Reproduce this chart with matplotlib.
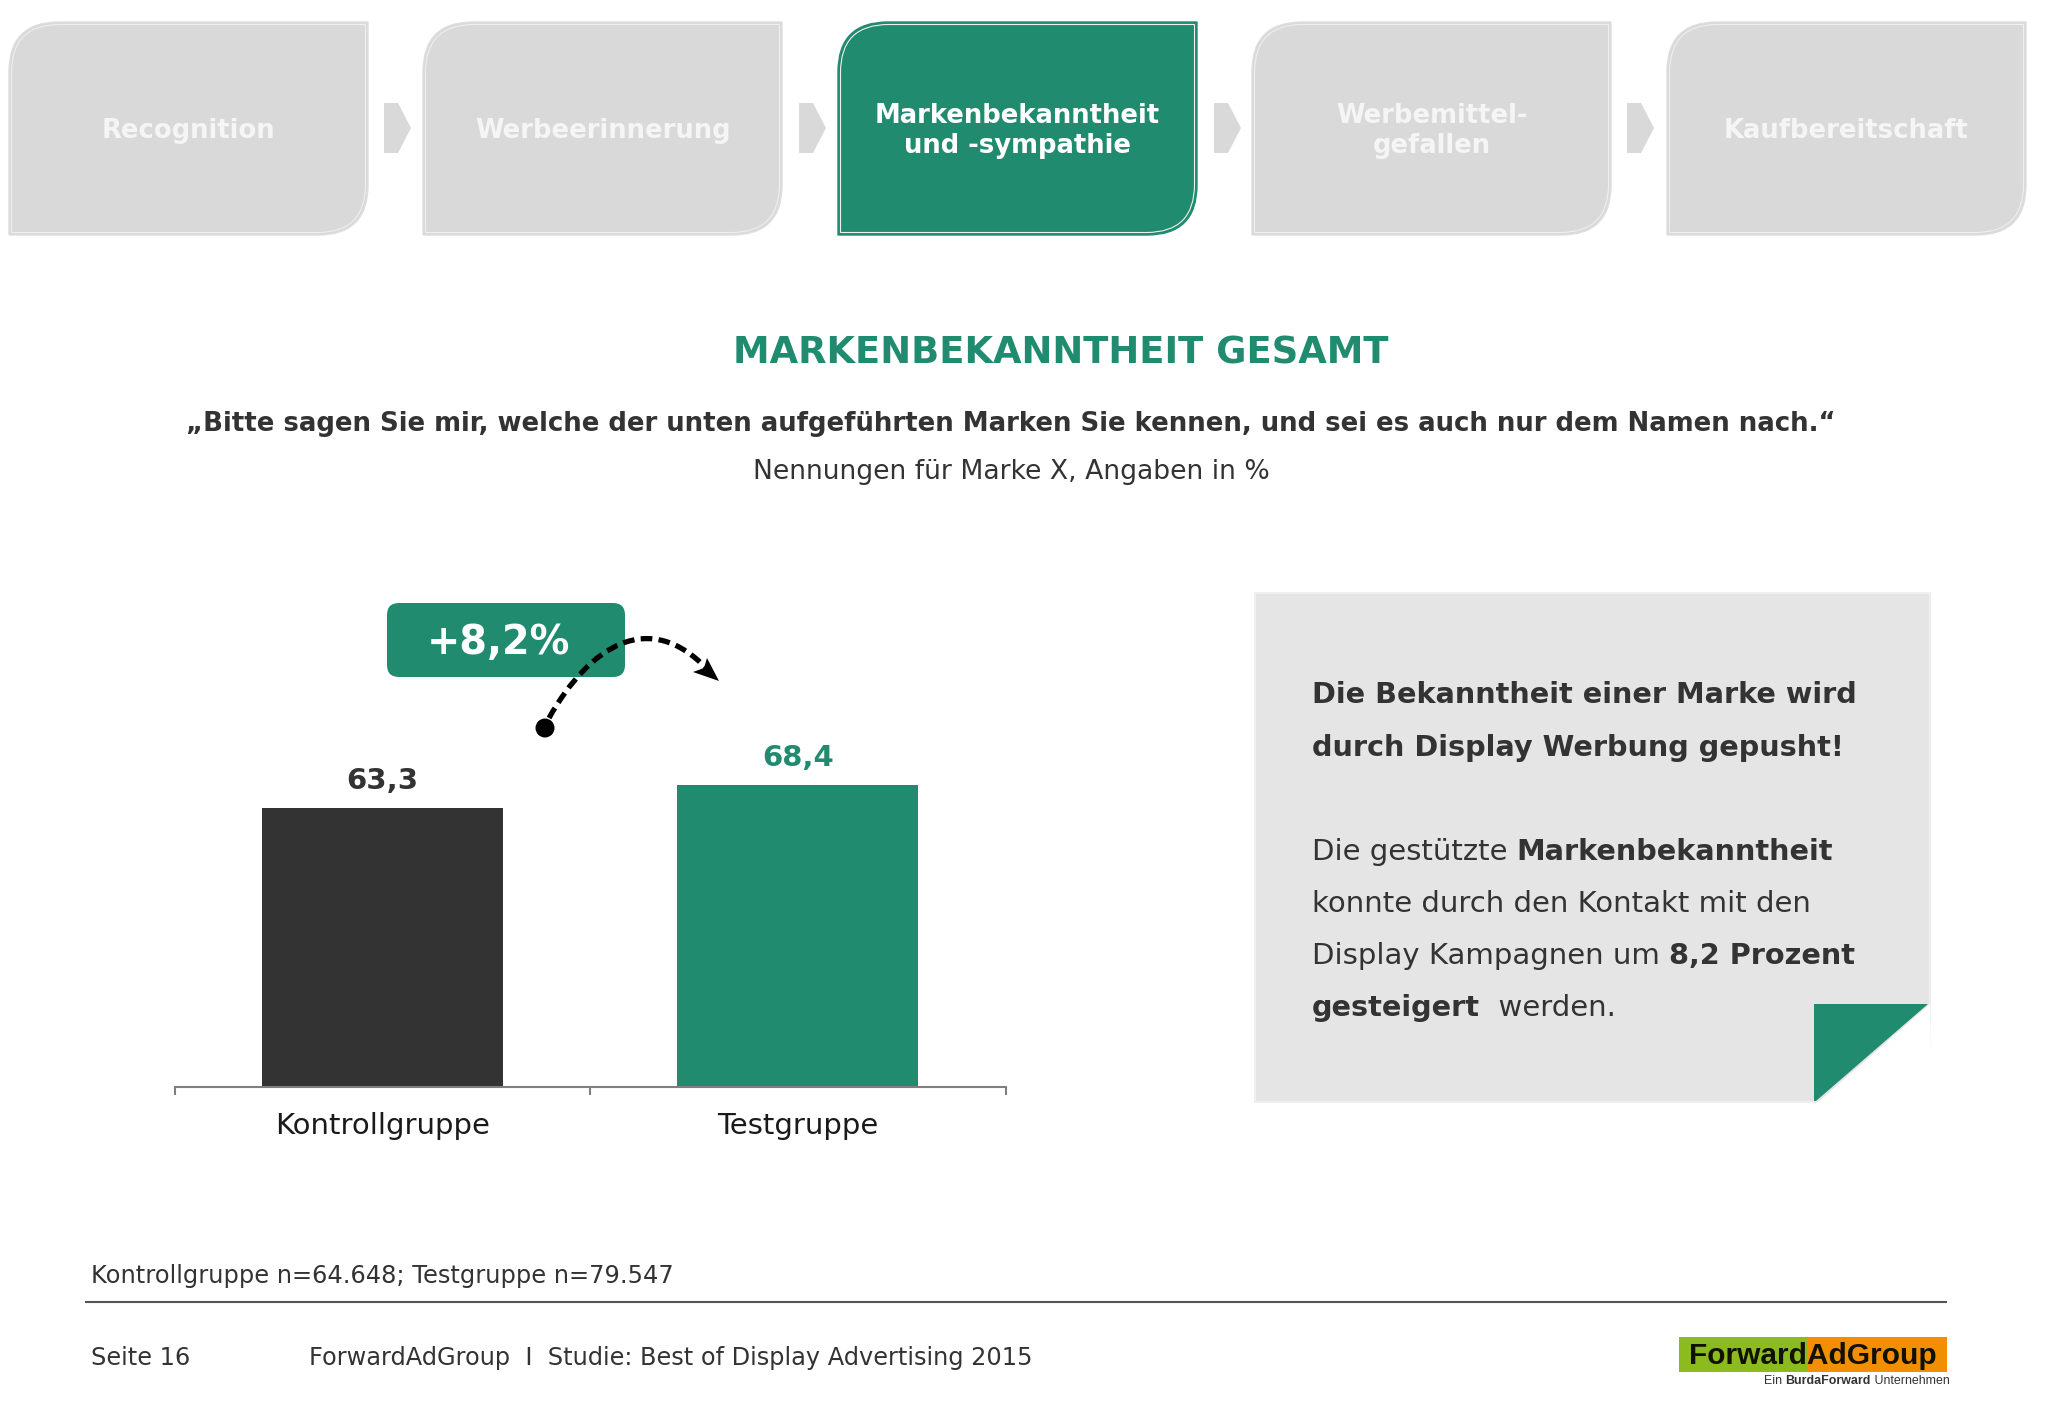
import matplotlib
matplotlib.use("Agg")
import matplotlib.pyplot as plt
from matplotlib.patches import PathPatch, Polygon, Rectangle, FancyBboxPatch, Circle
from matplotlib.path import Path

categories = ["Kontrollgruppe", "Testgruppe"]
values = [63.3, 68.4]
value_labels = ["63,3", "68,4"]
uplift = "+8,2%"
steps = ["Recognition", "Werbeerinnerung", "Markenbekanntheit\nund -sympathie", "Werbemittel-\ngefallen", "Kaufbereitschaft"]
active_step = 2

GREEN = "#218b70"
DARK = "#333333"
GREY = "#d9d9d9"
W, H = 2048, 1418

plt.rcParams["font.family"] = ["DejaVu Sans"]
fig = plt.figure(figsize=(W / 100, H / 100), dpi=100, facecolor="white")

# overlay in pixel coords for all the slide furniture
bg = fig.add_axes([0, 0, 1, 1])
bg.set_xlim(0, W)
bg.set_ylim(H, 0)
bg.axis("off")
rend = fig.canvas.get_renderer()


def step_path(x0, y0, x1, y1, r):
    # box with big round corners top left and bottom right only
    verts = [(x0 + r, y0), (x1, y0), (x1, y1 - r), (x1, y1), (x1 - r, y1), (x0, y1), (x0, y0 + r), (x0, y0), (x0 + r, y0), (x0 + r, y0)]
    codes = [Path.MOVETO, Path.LINETO, Path.LINETO, Path.CURVE3, Path.CURVE3, Path.LINETO, Path.LINETO, Path.CURVE3, Path.CURVE3, Path.CLOSEPOLY]
    return Path(verts, codes)


def text_runs(x, y, runs, **kw):
    # one line with mixed weights, left to right
    for txt, is_bold, size in runs:
        t = bg.text(x, y, txt, fontsize=size, fontweight="bold" if is_bold else "normal", ha="left", va="center", **kw)
        x = t.get_window_extent(rend).x1


box_left = [9, 423, 838, 1252, 1667]
for i, label in enumerate(steps):
    x0 = box_left[i]
    x1 = x0 + 359
    col = GREEN if i == active_step else GREY
    edge = GREEN if i == active_step else "#dedede"
    bg.add_patch(PathPatch(step_path(x0, 22, x1, 235, 50), fc=col, ec=edge, lw=1.0))
    bg.add_patch(PathPatch(step_path(x0 + 2.5, 24.5, x1 - 2.5, 232.5, 48), fc="none", ec="#efefef", lw=0.8))
    bg.text((x0 + x1) / 2, 131, label, color="white" if i == active_step else "#f5f5f5", fontsize=18.6, fontweight="bold",
            ha="center", va="center", linespacing=1.2)

for x in [384, 799, 1214, 1627]:
    bg.add_patch(Polygon([(x, 103), (x + 14, 103), (x + 27, 128), (x + 14, 153), (x, 153)], fc=GREY, ec="none"))

bg.text(1061, 353, "MARKENBEKANNTHEIT GESAMT", color=GREEN, fontsize=26.6, fontweight="bold", ha="center", va="center")
bg.text(1011, 424, "„Bitte sagen Sie mir, welche der unten aufgeführten Marken Sie kennen, und sei es auch nur dem Namen nach.“",
        color=DARK, fontsize=18.7, fontweight="bold", ha="center", va="center")
bg.text(1011, 472, "Nennungen für Marke X, Angaben in %", color=DARK, fontsize=19.2, ha="center", va="center")

# chart
ax = fig.add_axes([174.5 / W, 1 - 1087 / H, 831 / W, (1087 - 590) / H])
ax.patch.set_alpha(0)
ax.bar([0.5, 1.5], values, width=0.58, color=[DARK, GREEN])
ax.set_xlim(0, 2)
ax.set_ylim(0, 112.7)
for s in ["top", "left", "right"]:
    ax.spines[s].set_visible(False)
ax.spines["bottom"].set_color("#7f7f7f")
ax.spines["bottom"].set_linewidth(1.5)
ax.set_yticks([])
ax.set_xticks([0, 1, 2])
ax.set_xticklabels([])
ax.tick_params(axis="x", length=6, width=1.5, color="#7f7f7f")
for i, c in enumerate(categories):
    ax.text(i + 0.5, -8.9, c, color="#1a1a1a", fontsize=21, ha="center", va="center")
ax.text(0.5, values[0] + 6, value_labels[0], color=DARK, fontsize=21, fontweight="bold", ha="center", va="center")
ax.text(1.5, values[1] + 6.1, value_labels[1], color=GREEN, fontsize=21, fontweight="bold", ha="center", va="center")

# badge and dashed arrow
bg.add_patch(FancyBboxPatch((399, 615), 214, 50, boxstyle="round,pad=12,rounding_size=12", fc=GREEN, ec="none"))
bg.text(498, 643, uplift, color="white", fontsize=28.6, fontweight="bold", ha="center", va="center")
curve = Path([(549, 718), (590, 645), (650, 608), (708, 670)], [Path.MOVETO, Path.CURVE4, Path.CURVE4, Path.CURVE4])
bg.add_patch(PathPatch(curve, fc="none", ec="black", lw=3.8, linestyle=(0, (2.2, 1.2))))
bg.add_patch(Circle((545, 728), 9.5, fc="black", ec="none", zorder=3))
bg.add_patch(Polygon([(719, 681), (707, 658), (704, 668), (693, 672)], fc="black", ec="none", zorder=3))

# note panel
bg.add_patch(Rectangle((1255, 593), 675, 509, fc="#e6e5e6", ec="#efefef", lw=1.5))
bg.add_patch(Polygon([(1930, 1004), (1932, 1104), (1816, 1104)], fc="white", ec="none"))
bg.add_patch(Polygon([(1814, 1004), (1928, 1004), (1816, 1101), (1814, 1101)], fc=GREEN, ec="none"))

BOLD_SIZE, REG_SIZE = 20.7, 21
note_lines = [
    (695, [("Die Bekanntheit einer Marke wird", True, BOLD_SIZE)]),
    (748, [("durch Display Werbung gepusht!", True, BOLD_SIZE)]),
    (852, [("Die gestützte ", False, REG_SIZE), ("Markenbekanntheit", True, BOLD_SIZE)]),
    (904, [("konnte durch den Kontakt mit den", False, REG_SIZE)]),
    (956, [("Display Kampagnen um ", False, REG_SIZE), ("8,2 Prozent", True, BOLD_SIZE)]),
    (1008, [("gesteigert", True, BOLD_SIZE), ("  werden.", False, REG_SIZE)]),
]
for y, runs in note_lines:
    text_runs(1312, y, runs, color=DARK)

# footer
bg.text(91, 1276, "Kontrollgruppe n=64.648; Testgruppe n=79.547", color=DARK, fontsize=17.4, ha="left", va="center")
bg.plot([86, 1946], [1302, 1302], color="#555555", lw=1.5)
bg.text(91, 1358, "Seite 16", color=DARK, fontsize=17.3, ha="left", va="center")
bg.text(309, 1358, "ForwardAdGroup  I  Studie: Best of Display Advertising 2015", color=DARK, fontsize=17.3, ha="left", va="center")

# logo
bg.add_patch(Rectangle((1679, 1337), 128, 35, fc="#8cbb1f", ec="none"))
bg.add_patch(Rectangle((1807, 1337), 140, 35, fc="#f18f01", ec="none"))
bg.text(1813, 1356, "ForwardAdGroup", family="Liberation Sans", color="#111100", fontsize=21.5, fontweight="bold", ha="center", va="center")
text_runs(1764, 1381, [("Ein ", False, 8.9), ("BurdaForward", True, 8.9), (" Unternehmen", False, 8.9)], family="Liberation Sans", color="#333333")

fig.savefig("out.png", dpi=100)
